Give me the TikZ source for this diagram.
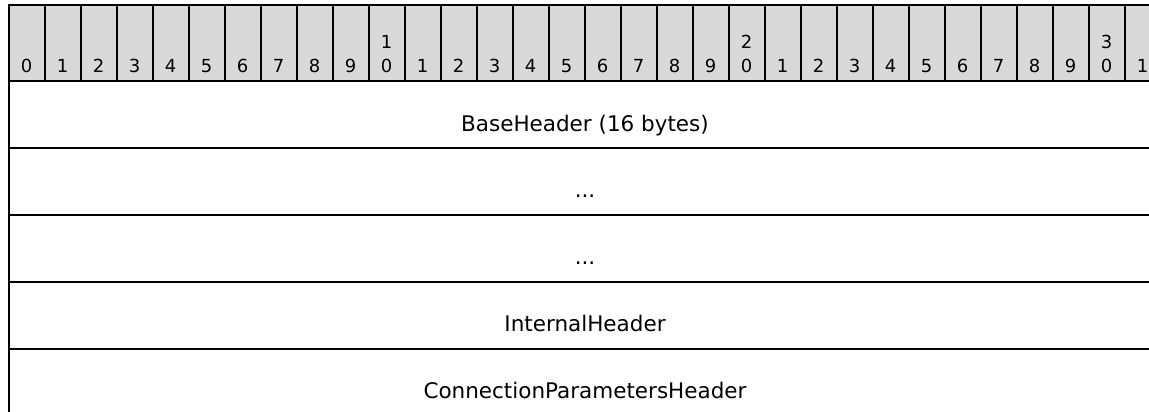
\documentclass[tikz,border=0pt]{standalone}
\usepackage{fontspec}
\setmainfont{DejaVu Sans}
\definecolor{hdrgray}{HTML}{D9D9D9}
\begin{document}
\begin{tikzpicture}[x=1pt,y=-1pt,
  digit/.style={font=\fontsize{18}{21}\selectfont, anchor=base, inner sep=0pt},
  rowlabel/.style={font=\fontsize{21.5}{25}\selectfont, anchor=base, inner sep=0pt},
  colline/.style={line width=2pt, black},
  rowline/.style={line width=2.7pt, black},
  border/.style={line width=2pt, black}]
\useasboundingbox (0,0) rectangle (1149,412);
\begin{scope}
\clip (0,0) rectangle (1149,412);
% header background
\fill[hdrgray] (9,5) rectangle (1161,81);
% column separators in header
\foreach \i in {1,...,31} \draw[colline] ({9+36*\i},5) -- ({9+36*\i},81);
% outer borders
\draw[border] (8,5) -- (1161,5);
\draw[border] (9,4) -- (9,412);
% row separators
\foreach \y in {81,148,215,282,349} \draw[rowline] (8,\y) -- (1161,\y);
% bit numbers
\foreach \i in {0,...,31} {
  \pgfmathtruncatemacro{\last}{mod(\i,10)}
  \node[digit] (d\i) at ({26.5+36*\i},73) {\last};
}
\node[digit] (t10) at ({26.5+36*10},49) {1};
\node[digit] (t20) at ({26.5+36*20},49) {2};
\node[digit] (t30) at ({26.5+36*30},49) {3};
% row labels
\node[rowlabel] (r1) at (585,131) {BaseHeader (16 bytes)};
\node[rowlabel] (r2) at (585,197) {...};
\node[rowlabel] (r3) at (585,264) {...};
\node[rowlabel] (r4) at (585,331) {InternalHeader};
\node[rowlabel] (r5) at (585,398) {ConnectionParametersHeader};
\end{scope}
\end{tikzpicture}
\end{document}
